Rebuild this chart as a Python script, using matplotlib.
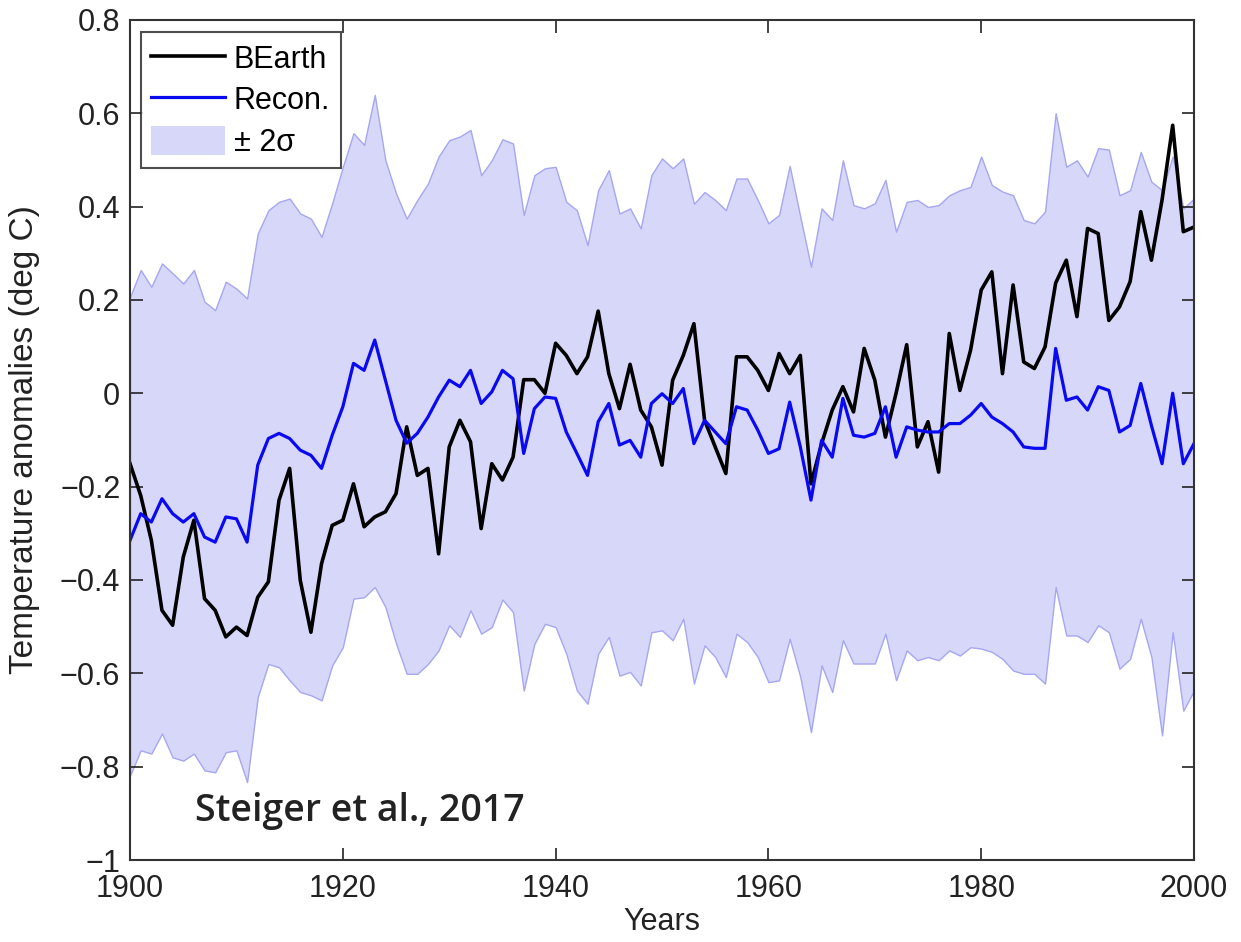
import numpy as np
import matplotlib
matplotlib.use("Agg")
import matplotlib.pyplot as plt

plt.rcParams["font.family"] = ["Liberation Sans", "DejaVu Sans"]

# data
years = np.arange(1900, 2001)

bearth = [
    -0.151, -0.219, -0.315, -0.465, -0.497, -0.351, -0.272, -0.440, -0.465, -0.522,
    -0.501, -0.519, -0.437, -0.404, -0.229, -0.161, -0.401, -0.512, -0.365, -0.283,
    -0.272, -0.194, -0.286, -0.265, -0.254, -0.215, -0.072, -0.176, -0.161, -0.344,
    -0.115, -0.058, -0.104, -0.290, -0.151, -0.186, -0.137, 0.029, 0.029, 0.000,
    0.107, 0.081, 0.042, 0.078, 0.176, 0.042, -0.033, 0.062, -0.036, -0.072,
    -0.154, 0.028, 0.081, 0.149, -0.058, -0.115, -0.172, 0.078, 0.078, 0.049,
    0.006, 0.085, 0.042, 0.081, -0.194, -0.108, -0.036, 0.014, -0.040, 0.096,
    0.028, -0.094, 0.000, 0.104, -0.115, -0.061, -0.169, 0.128, 0.006, 0.092,
    0.221, 0.260, 0.042, 0.232, 0.067, 0.053, 0.099, 0.236, 0.285, 0.164,
    0.353, 0.342, 0.156, 0.185, 0.239, 0.389, 0.285, 0.414, 0.574, 0.346,
    0.356,
]

recon = [
    -0.315, -0.258, -0.276, -0.226, -0.258, -0.276, -0.258, -0.308, -0.319, -0.265,
    -0.269, -0.319, -0.154, -0.097, -0.086, -0.097, -0.122, -0.133, -0.161, -0.090,
    -0.029, 0.064, 0.049, 0.114, 0.028, -0.058, -0.107, -0.086, -0.051, -0.008,
    0.028, 0.014, 0.049, -0.022, 0.003, 0.049, 0.031, -0.129, -0.033, -0.008,
    -0.011, -0.083, -0.129, -0.176, -0.061, -0.022, -0.111, -0.101, -0.137, -0.022,
    -0.001, -0.022, 0.010, -0.108, -0.058, -0.083, -0.108, -0.029, -0.036, -0.079,
    -0.129, -0.119, -0.019, -0.115, -0.229, -0.101, -0.137, -0.011, -0.090, -0.094,
    -0.086, -0.029, -0.137, -0.072, -0.079, -0.083, -0.083, -0.065, -0.065, -0.047,
    -0.022, -0.051, -0.065, -0.083, -0.115, -0.118, -0.118, 0.096, -0.015, -0.008,
    -0.036, 0.014, 0.006, -0.083, -0.069, 0.021, -0.069, -0.151, 0.000, -0.151,
    -0.108,
]

upper = [
    0.206, 0.264, 0.228, 0.278, 0.257, 0.235, 0.264, 0.196, 0.178, 0.239,
    0.224, 0.203, 0.342, 0.392, 0.410, 0.417, 0.385, 0.374, 0.335, 0.407,
    0.485, 0.557, 0.532, 0.639, 0.499, 0.428, 0.374, 0.414, 0.449, 0.507,
    0.542, 0.550, 0.564, 0.467, 0.499, 0.544, 0.535, 0.382, 0.467, 0.482,
    0.485, 0.410, 0.392, 0.317, 0.435, 0.478, 0.385, 0.396, 0.353, 0.467,
    0.503, 0.482, 0.503, 0.406, 0.431, 0.414, 0.392, 0.460, 0.460, 0.414,
    0.364, 0.382, 0.487, 0.378, 0.271, 0.396, 0.371, 0.499, 0.403, 0.396,
    0.407, 0.457, 0.346, 0.410, 0.414, 0.399, 0.403, 0.424, 0.435, 0.442,
    0.507, 0.446, 0.432, 0.424, 0.371, 0.364, 0.389, 0.600, 0.485, 0.499,
    0.464, 0.525, 0.522, 0.424, 0.435, 0.517, 0.453, 0.435, 0.507, 0.396,
    0.417,
]

lower = [
    -0.819, -0.765, -0.772, -0.729, -0.780, -0.787, -0.772, -0.808, -0.812, -0.769,
    -0.765, -0.833, -0.651, -0.580, -0.587, -0.615, -0.640, -0.647, -0.658, -0.583,
    -0.544, -0.440, -0.437, -0.415, -0.458, -0.536, -0.601, -0.601, -0.580, -0.551,
    -0.497, -0.522, -0.465, -0.515, -0.501, -0.442, -0.469, -0.637, -0.537, -0.494,
    -0.501, -0.558, -0.637, -0.665, -0.558, -0.522, -0.605, -0.597, -0.626, -0.512,
    -0.508, -0.529, -0.483, -0.622, -0.540, -0.565, -0.608, -0.515, -0.533, -0.565,
    -0.619, -0.615, -0.526, -0.608, -0.726, -0.583, -0.640, -0.529, -0.579, -0.579,
    -0.579, -0.515, -0.615, -0.551, -0.572, -0.565, -0.572, -0.551, -0.562, -0.544,
    -0.547, -0.554, -0.569, -0.594, -0.601, -0.601, -0.622, -0.415, -0.519, -0.519,
    -0.533, -0.497, -0.512, -0.590, -0.569, -0.483, -0.565, -0.733, -0.512, -0.680,
    -0.637,
]

xticks = [1900, 1920, 1940, 1960, 1980, 2000]
yticks = [-1, -0.8, -0.6, -0.4, -0.2, 0, 0.2, 0.4, 0.6, 0.8]
ytick_labels = ["\u22121", "\u22120.8", "\u22120.6", "\u22120.4", "\u22120.2",
                "0", "0.2", "0.4", "0.6", "0.8"]

fig = plt.figure(figsize=(12.41, 9.42), dpi=100)
ax = fig.add_axes([0.1048, 0.087, 0.8573, 0.892])

band = ax.fill_between(years, lower, upper, facecolor="#d7d7fa",
                       edgecolor="#a6a6f2", linewidth=1.0)
l1, = ax.plot(years, bearth, color="black", lw=2.6)
l2, = ax.plot(years, recon, color="#0a0af0", lw=2.3)

ax.set_xlim(1900, 2000)
ax.set_ylim(-1, 0.8)
ax.set_xticks(xticks)
ax.set_yticks(yticks)
ax.set_yticklabels(ytick_labels)
ax.tick_params(direction="in", length=9, width=1.2, labelsize=22,
               top=True, right=True, colors="#222222")
ax.tick_params(axis="x", pad=10)
ax.tick_params(axis="y", pad=7)
for s in ax.spines.values():
    s.set_linewidth(1.5)
    s.set_color("#333333")

ax.set_xlabel("Years", fontsize=22, color="#222222", va="top")
ax.xaxis.set_label_coords(0.5, -0.056)
ax.set_ylabel("Temperature anomalies (deg C)", fontsize=24, color="#222222")
ax.yaxis.set_label_coords(-0.085, 0.5)

leg = ax.legend([l1, l2, band], ["BEarth", "Recon.", "\u00b1 2\u03c3"],
                loc="upper left", bbox_to_anchor=(0.01, 0.985), fontsize=22,
                frameon=True, fancybox=False, handlelength=2.4, handleheight=1.1,
                handletextpad=0.3, borderpad=0.35, labelspacing=0.3,
                borderaxespad=0.0)
leg.get_frame().set_edgecolor("#222222")
leg.get_frame().set_linewidth(1.5)
leg.legend_handles[2].set_edgecolor("none")

ax.text(1906.1, -0.894, "Steiger et al., 2017", fontsize=27, fontweight="semibold",
        family=["Open Sans", "DejaVu Sans"], color="#222222", va="center")

fig.savefig("out.png", dpi=100)
